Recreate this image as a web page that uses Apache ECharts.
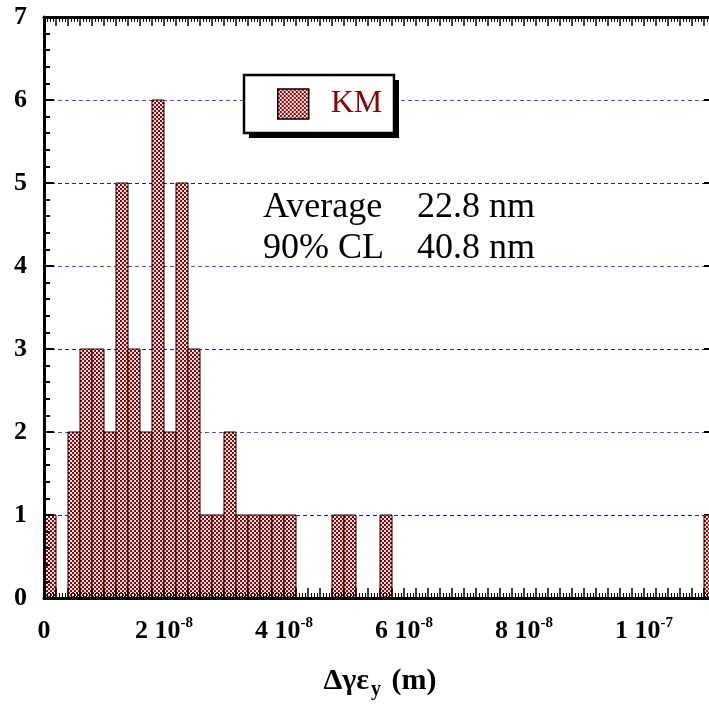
<!DOCTYPE html>
<html>
<head>
<meta charset="utf-8">
<script src="https://cdn.jsdelivr.net/npm/echarts@6/dist/echarts.min.js"></script>
<style>html,body{margin:0;padding:0;background:#fff;}#c{width:709px;height:712px;}</style>
</head>
<body>
<div id="c"></div>
<script>
// ---- data (x in nm) ----
const binLeftNm = [0, 4, 6, 8, 10, 12, 14, 16, 18, 20, 22, 24, 26, 28, 30, 32, 34, 36, 38, 40, 48, 50, 56, 110];
const binCounts = [1, 2, 3, 3, 2, 5, 3, 2, 6, 2, 5, 3, 1, 1, 2, 1, 1, 1, 1, 1, 1, 1, 1, 1];
const binWidthNm = 2;
const xTickValues = [0, 20, 40, 60, 80, 100];
const xTickMant = ['0', '2', '4', '6', '8', '1'];
const xTickExp = ['', '-8', '-8', '-8', '-8', '-7'];
const seriesName = 'KM';
const statLabels = ['Average', '90% CL'];
const statValues = ['22.8 nm', '40.8 nm'];

// ---- pattern ----
const pc = document.createElement('canvas');
pc.width = 4; pc.height = 4;
const g = pc.getContext('2d');
g.fillStyle = '#fbeaea'; g.fillRect(0, 0, 4, 4);
g.fillStyle = '#9a0000'; g.fillRect(0, 0, 2, 2); g.fillRect(2, 2, 2, 2);
const pattern = { image: pc, repeat: 'repeat' };

const serif = 'Liberation Serif';
const chart = echarts.init(document.getElementById('c'), null, { renderer: 'canvas' });

const common = { type: 'value', min: 0 };
const lineStyle = { show: true, onZero: false, lineStyle: { color: '#000', width: 3 } };
const option = {
  animation: false,
  backgroundColor: '#fff',
  grid: { left: 44, top: 17, width: 672, height: 581, containLabel: false, outerBoundsMode: 'none' },
  legend: {
    data: [seriesName],
    left: 244, top: 75, z: 20,
    padding: [13, 10, 13, 33],
    icon: 'rect', itemWidth: 31, itemHeight: 30,
    itemStyle: { color: pattern, borderColor: '#000', borderWidth: 1.5 },
    textStyle: { fontFamily: serif, fontSize: 32, color: '#8b0000', padding: [0, 0, 0, 17], lineHeight: 32 }
  },
  xAxis: [
    Object.assign({}, common, {
      position: 'bottom', max: 112, interval: 2, z: 5,
      axisLine: lineStyle,
      axisTick: { show: true, inside: true, length: 10, lineStyle: { color: '#000', width: 1.5 } },
      minorTick: { show: true, splitNumber: 4, length: 5, lineStyle: { color: '#000', width: 1 } },
      splitLine: { show: false },
      axisLabel: {
        margin: 18,
        formatter: function (v) {
          const i = xTickValues.indexOf(Math.round(v * 1000) / 1000);
          if (i < 0) return '';
          return xTickExp[i] ? '{m|' + xTickMant[i] + ' 10}{e|' + xTickExp[i] + '}' : '{m|' + xTickMant[i] + '}';
        },
        rich: {
          m: { fontFamily: serif, fontWeight: 'bold', fontSize: 26, color: '#000', lineHeight: 30 },
          e: { fontFamily: serif, fontWeight: 'bold', fontSize: 15, color: '#000', lineHeight: 15, verticalAlign: 'top' }
        }
      },
      name: '{a|Δγε}{s|y}{a| (m)}',
      nameLocation: 'middle', nameGap: 68,
      nameTextStyle: {
        rich: {
          a: { fontFamily: serif, fontWeight: 'bold', fontSize: 30, color: '#000', lineHeight: 34, verticalAlign: 'top' },
          s: { fontFamily: serif, fontWeight: 'bold', fontSize: 20, color: '#000', lineHeight: 20, verticalAlign: 'bottom', padding: [26, 3, 0, 2] }
        }
      }
    }),
    Object.assign({}, common, {
      position: 'top', max: 112, interval: 2, z: 5,
      axisLine: lineStyle,
      axisTick: { show: true, inside: true, length: 9, lineStyle: { color: '#000', width: 1.5 } },
      minorTick: { show: true, splitNumber: 4, length: 5, lineStyle: { color: '#000', width: 1 } },
      splitLine: { show: false },
      axisLabel: { show: false }
    })
  ],
  yAxis: [
    Object.assign({}, common, {
      position: 'left', max: 7, interval: 1, z: 5,
      axisLine: lineStyle,
      axisTick: { show: true, inside: true, length: 10, lineStyle: { color: '#000', width: 2 } },
      minorTick: { show: true, splitNumber: 5, length: 6, lineStyle: { color: '#000', width: 2 } },
      splitLine: { show: false },
      axisLabel: { margin: 17, fontFamily: serif, fontWeight: 'bold', fontSize: 26, color: '#000' }
    }),
    Object.assign({}, common, {
      position: 'right', max: 7, interval: 1, z: 0,
      axisLine: lineStyle,
      axisTick: { show: true, inside: true, length: 12, lineStyle: { color: '#000', width: 2 } },
      minorTick: { show: true, splitNumber: 5, length: 6, lineStyle: { color: '#000', width: 2 } },
      axisLabel: { show: false },
      splitLine: { show: true, lineStyle: { color: ['#4a4aff', '#202090'], width: 1, type: [4, 3] } }
    })
  ],
  graphic: [
    { type: 'rect', z: 10, shape: { x: 249, y: 80, width: 150, height: 58 }, style: { fill: '#000' } },
    { type: 'rect', z: 11, shape: { x: 244, y: 75, width: 150, height: 58 }, style: { fill: '#fff', stroke: '#000', lineWidth: 2.5 } },
    { type: 'text', left: 263, top: 190, z: 10, style: { text: statLabels[0], font: '36px "Liberation Serif"', fill: '#000' } },
    { type: 'text', left: 417, top: 190, z: 10, style: { text: statValues[0], font: '36px "Liberation Serif"', fill: '#000' } },
    { type: 'text', left: 263, top: 231, z: 10, style: { text: statLabels[1], font: '36px "Liberation Serif"', fill: '#000' } },
    { type: 'text', left: 417, top: 231, z: 10, style: { text: statValues[1], font: '36px "Liberation Serif"', fill: '#000' } }
  ],
  series: [{
    name: seriesName,
    type: 'custom',
    xAxisIndex: 0, yAxisIndex: 0,
    clip: true,
    itemStyle: { color: pattern, borderColor: '#000', borderWidth: 1 },
    encode: { x: [0, 1], y: 2 },
    data: binLeftNm.map((l, i) => [l, l + binWidthNm, binCounts[i]]),
    renderItem: function (params, api) {
      const p0 = api.coord([api.value(0), api.value(2)]);
      const p1 = api.coord([api.value(1), 0]);
      return {
        type: 'rect',
        shape: { x: p0[0], y: p0[1], width: p1[0] - p0[0], height: p1[1] - p0[1] },
        style: { fill: pattern, stroke: '#000', lineWidth: 1 }
      };
    }
  }]
};
chart.setOption(option);
</script>
</body>
</html>
